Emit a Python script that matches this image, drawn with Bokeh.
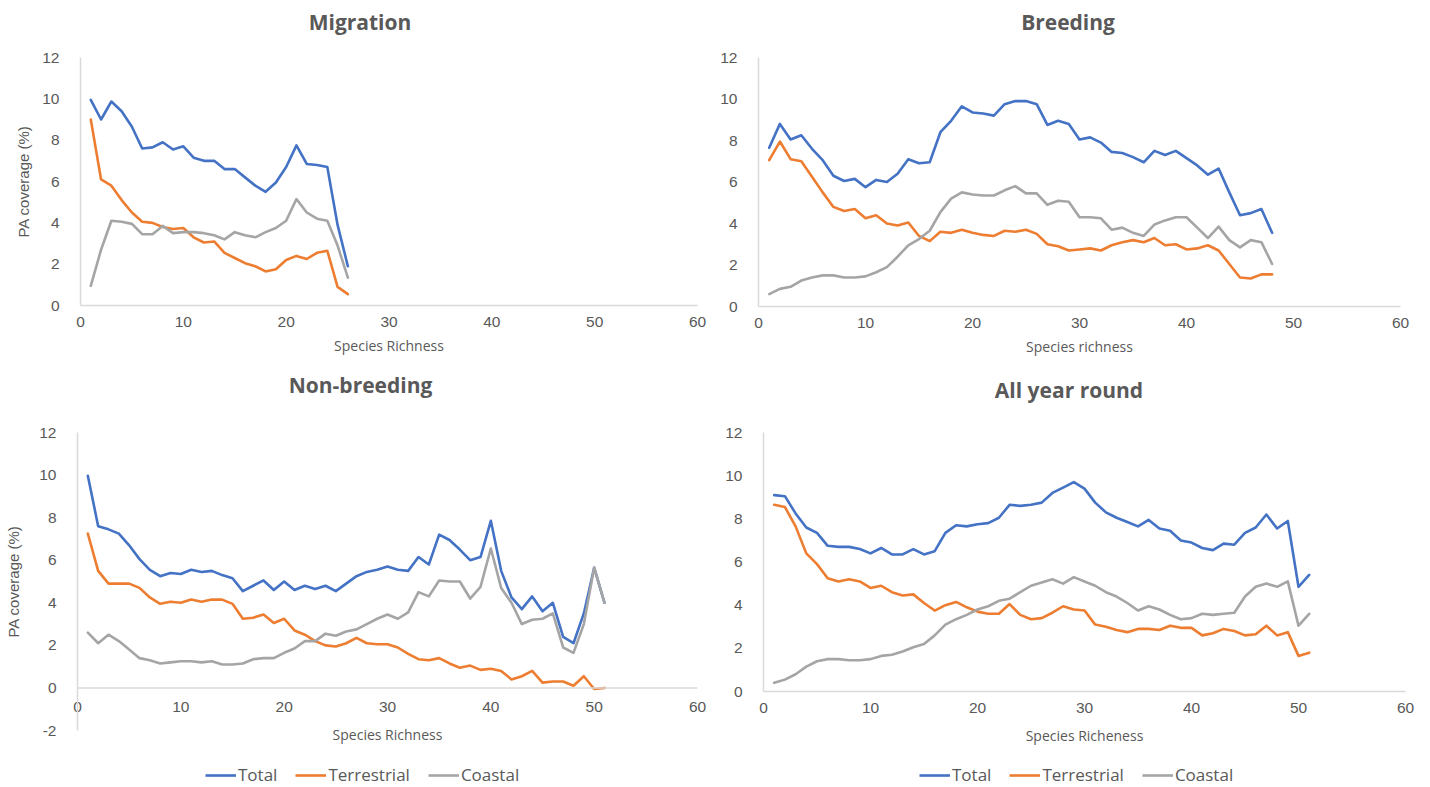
from bokeh.plotting import figure
from bokeh.models import (Range1d, FixedTicker, Legend, LegendItem, Span,
                          LinearAxis)
from bokeh.layouts import column, row
from bokeh.embed import file_html
from bokeh.resources import INLINE

# ---------------- data ----------------
x_ticks = [0, 10, 20, 30, 40, 50, 60]
y_ticks = [0, 2, 4, 6, 8, 10, 12]
y_ticks_nb = [-2, 0, 2, 4, 6, 8, 10, 12]
series_names = ["Total", "Terrestrial", "Coastal"]
titles = ["Migration", "Breeding", "Non-breeding", "All year round"]

mig_x = list(range(1, 27))
mig_total = [9.95, 9.0, 9.87, 9.4, 8.65, 7.6, 7.65, 7.9, 7.55, 7.7, 7.15, 7.0, 7.0,
             6.6, 6.6, 6.2, 5.8, 5.5, 5.95, 6.7, 7.75, 6.85, 6.8, 6.7, 3.9, 1.9]
mig_terr = [9.0, 6.1, 5.8, 5.1, 4.5, 4.05, 4.0, 3.8, 3.7, 3.75, 3.3, 3.05, 3.1,
            2.55, 2.3, 2.05, 1.9, 1.65, 1.75, 2.2, 2.4, 2.25, 2.55, 2.65, 0.9, 0.55]
mig_coast = [0.95, 2.7, 4.1, 4.05, 3.95, 3.45, 3.45, 3.85, 3.5, 3.55, 3.55, 3.5, 3.4,
             3.2, 3.55, 3.4, 3.3, 3.55, 3.75, 4.1, 5.15, 4.5, 4.2, 4.1, 2.9, 1.35]

bre_x = list(range(1, 49))
bre_total = [7.65, 8.8, 8.05, 8.25, 7.6, 7.05, 6.3, 6.05, 6.15, 5.75, 6.1, 6.0, 6.4, 7.1,
             6.9, 6.95, 8.4, 8.95, 9.65, 9.35, 9.3, 9.2, 9.75, 9.9, 9.9, 9.75, 8.75, 8.95,
             8.8, 8.05, 8.15, 7.9, 7.45, 7.4, 7.2, 6.95, 7.5, 7.3, 7.5, 7.15, 6.8, 6.35,
             6.65, 5.5, 4.4, 4.5, 4.7, 3.55]
bre_terr = [7.05, 7.95, 7.1, 7.0, 6.25, 5.5, 4.8, 4.6, 4.7, 4.25, 4.4, 4.0, 3.9, 4.05,
            3.4, 3.15, 3.6, 3.55, 3.7, 3.55, 3.45, 3.4, 3.65, 3.6, 3.7, 3.5, 3.0, 2.9,
            2.7, 2.75, 2.8, 2.7, 2.95, 3.1, 3.2, 3.1, 3.3, 2.95, 3.0, 2.75, 2.8, 2.95,
            2.7, 2.05, 1.4, 1.35, 1.55, 1.55]
bre_coast = [0.6, 0.85, 0.95, 1.25, 1.4, 1.5, 1.5, 1.4, 1.4, 1.45, 1.65, 1.9, 2.4, 2.95,
             3.25, 3.65, 4.55, 5.2, 5.5, 5.4, 5.35, 5.35, 5.6, 5.8, 5.45, 5.45, 4.9, 5.1,
             5.05, 4.3, 4.3, 4.25, 3.7, 3.8, 3.55, 3.4, 3.95, 4.15, 4.3, 4.3, 3.8, 3.3,
             3.85, 3.2, 2.85, 3.2, 3.1, 2.05]

nb_x = list(range(1, 52))
nb_total = [9.97, 7.6, 7.45, 7.25, 6.7, 6.05, 5.55, 5.25, 5.4, 5.35, 5.55, 5.45, 5.5,
            5.3, 5.15, 4.55, 4.8, 5.05, 4.6, 5.0, 4.6, 4.8, 4.65, 4.8, 4.55, 4.9, 5.25,
            5.45, 5.55, 5.7, 5.55, 5.5, 6.15, 5.8, 7.2, 6.95, 6.5, 6.0, 6.15, 7.85, 5.5,
            4.25, 3.7, 4.3, 3.6, 4.0, 2.4, 2.1, 3.5, 5.65, 4.0]
nb_terr = [7.25, 5.5, 4.9, 4.9, 4.9, 4.7, 4.25, 3.95, 4.05, 4.0, 4.15, 4.05, 4.15, 4.15,
           3.95, 3.25, 3.3, 3.45, 3.05, 3.25, 2.7, 2.5, 2.2, 2.0, 1.95, 2.1, 2.35, 2.1,
           2.05, 2.05, 1.9, 1.6, 1.35, 1.3, 1.4, 1.15, 0.95, 1.05, 0.85, 0.9, 0.8, 0.4,
           0.55, 0.8, 0.25, 0.3, 0.3, 0.1, 0.55, -0.05, 0.0]
nb_coast = [2.6, 2.1, 2.5, 2.2, 1.8, 1.4, 1.3, 1.15, 1.2, 1.25, 1.25, 1.2, 1.25, 1.1,
            1.1, 1.15, 1.35, 1.4, 1.4, 1.65, 1.85, 2.2, 2.2, 2.55, 2.45, 2.65, 2.75, 3.0,
            3.25, 3.45, 3.25, 3.55, 4.5, 4.3, 5.05, 5.0, 5.0, 4.2, 4.75, 6.55, 4.7, 4.0,
            3.0, 3.2, 3.25, 3.5, 1.9, 1.65, 3.0, 5.65, 4.0]

ay_x = list(range(1, 52))
ay_total = [9.1, 9.05, 8.25, 7.6, 7.35, 6.75, 6.7, 6.7, 6.6, 6.4, 6.65, 6.35, 6.35, 6.6,
            6.35, 6.5, 7.35, 7.7, 7.65, 7.75, 7.8, 8.05, 8.65, 8.6, 8.65, 8.75, 9.2, 9.45,
            9.7, 9.4, 8.75, 8.3, 8.05, 7.85, 7.65, 7.95, 7.55, 7.45, 7.0, 6.9, 6.65, 6.55,
            6.85, 6.8, 7.35, 7.6, 8.2, 7.55, 7.9, 4.85, 5.4]
ay_terr = [8.65, 8.55, 7.65, 6.4, 5.9, 5.25, 5.1, 5.2, 5.1, 4.8, 4.9, 4.6, 4.45, 4.5,
           4.1, 3.75, 4.0, 4.15, 3.9, 3.7, 3.6, 3.6, 4.05, 3.55, 3.35, 3.4, 3.65, 3.95,
           3.8, 3.75, 3.1, 3.0, 2.85, 2.75, 2.9, 2.9, 2.85, 3.05, 2.95, 2.95, 2.6, 2.7,
           2.9, 2.8, 2.6, 2.65, 3.05, 2.6, 2.75, 1.65, 1.8]
ay_coast = [0.4, 0.55, 0.8, 1.15, 1.4, 1.5, 1.5, 1.45, 1.45, 1.5, 1.65, 1.7, 1.85, 2.05,
            2.2, 2.6, 3.1, 3.35, 3.55, 3.8, 3.95, 4.2, 4.3, 4.6, 4.9, 5.05, 5.2, 5.0,
            5.3, 5.1, 4.9, 4.6, 4.4, 4.1, 3.75, 3.95, 3.8, 3.55, 3.35, 3.4, 3.6, 3.55,
            3.6, 3.65, 4.4, 4.85, 5.0, 4.85, 5.1, 3.05, 3.6]

# ---------------- style ----------------
COLORS = ["#4472C4", "#ED7D31", "#A5A5A5"]
TXT = "#595959"
AXIS = "#D9D9D9"
SANS = "Open Sans"
ARIAL = "Liberation Sans"
LW = 2.6


def strip_ticks(ax):
    ax.major_tick_line_color = None
    ax.minor_tick_line_color = None
    ax.major_tick_out = 0
    ax.major_tick_in = 0
    ax.minor_tick_out = 0
    ax.minor_tick_in = 0


def make_panel(title, xs, ys_list, fw, fh, left, right, top, bottom,
               y_start, yticks, xlabel, title_at, title_standoff,
               ylabel=None, ylabel_standoff=7, zero_axis=False,
               xlabel_standoff=6, xtick_standoff=11):
    p = figure(frame_width=fw, frame_height=fh, output_backend="svg",
               toolbar_location=None, tools="",
               x_range=Range1d(0, 60), y_range=Range1d(y_start, 12),
               min_border_left=left, min_border_right=right,
               min_border_top=top, min_border_bottom=bottom)
    p.outline_line_color = None
    p.grid.visible = False
    p.background_fill_color = "white"
    p.border_fill_color = "white"

    # chart title above the plot area, centred where the original puts it
    tax = LinearAxis(ticker=FixedTicker(ticks=[title_at]),
                     major_label_overrides={title_at: title})
    tax.axis_line_color = None
    strip_ticks(tax)
    tax.major_label_standoff = title_standoff
    tax.major_label_text_font = SANS
    tax.major_label_text_font_size = "21px"
    tax.major_label_text_font_style = "bold"
    tax.major_label_text_color = TXT
    p.add_layout(tax, "above")

    if zero_axis:
        p.add_layout(Span(location=0, dimension="width", line_color=AXIS,
                          line_width=1.5))

    for ys, c in zip(ys_list, COLORS):
        p.line(xs, ys, line_color=c, line_width=LW, line_join="round",
               line_cap="round")

    xa = [a for a in p.below if isinstance(a, LinearAxis)][0]
    ya = p.yaxis[0]
    xa.ticker = FixedTicker(ticks=x_ticks)
    ya.ticker = FixedTicker(ticks=yticks)
    for ax in (xa, ya):
        ax.axis_line_color = AXIS
        ax.axis_line_width = 1.5
        strip_ticks(ax)
        ax.major_label_text_font = ARIAL
        ax.major_label_text_font_size = "15.5px"
        ax.major_label_text_color = TXT
    ya.major_label_standoff = 21
    ya.major_label_overrides = {-2: "-2"}
    if zero_axis:
        xa.axis_line_color = None
    xa.major_label_standoff = xtick_standoff
    xa.axis_label = xlabel
    xa.axis_label_text_font = SANS
    xa.axis_label_text_font_size = "14px"
    xa.axis_label_text_font_style = "normal"
    xa.axis_label_text_color = TXT
    xa.axis_label_standoff = xlabel_standoff
    if ylabel:
        ya.axis_label = ylabel
        ya.axis_label_text_font = ARIAL
        ya.axis_label_text_font_size = "15px"
        ya.axis_label_text_font_style = "normal"
        ya.axis_label_text_color = TXT
        ya.axis_label_standoff = ylabel_standoff
    return p


def legend_strip(width, height, vx, vy, xs, ys_list):
    p = figure(width=width, height=height, output_backend="svg",
               toolbar_location=None, tools="",
               x_range=Range1d(0, 60), y_range=Range1d(0, 12),
               min_border_left=0, min_border_right=0,
               min_border_top=0, min_border_bottom=0)
    p.outline_line_color = None
    p.grid.visible = False
    p.axis.visible = False
    rs = [p.line(xs, ys, line_color=c, line_width=LW, visible=False)
          for ys, c in zip(ys_list, COLORS)]
    items = [LegendItem(label=n, renderers=[r]) for n, r in zip(series_names, rs)]
    lg = Legend(items=items, orientation="horizontal", location=(vx, vy))
    lg.border_line_color = None
    lg.background_fill_alpha = 0
    lg.label_text_font = SANS
    lg.label_text_font_size = "17px"
    lg.label_text_color = TXT
    lg.glyph_width = 31
    lg.glyph_height = 18
    lg.label_standoff = 2
    lg.spacing = 18
    lg.padding = 0
    lg.margin = 0
    p.add_layout(lg)
    return p


p1 = make_panel(titles[0], mig_x, [mig_total, mig_terr, mig_coast],
                617, 248, 80, 18, 57, 60, 0, y_ticks, "Species Richness",
                title_at=27.18, title_standoff=22,
                ylabel="PA coverage (%)", ylabel_standoff=7)
p2 = make_panel(titles[1], bre_x, [bre_total, bre_terr, bre_coast],
                642, 249, 43, 30, 57, 59, 0, y_ticks, "Species richness",
                title_at=28.93, title_standoff=22)
p3 = make_panel(titles[2], nb_x, [nb_total, nb_terr, nb_coast],
                620, 298, 77, 18, 67, 28, -2, y_ticks_nb, "Species Richness",
                title_at=27.39, title_standoff=34,
                ylabel="PA coverage (%)", ylabel_standoff=14, zero_axis=True,
                xlabel_standoff=10, xtick_standoff=-29)
p4 = make_panel(titles[3], ay_x, [ay_total, ay_terr, ay_coast],
                642, 259, 48, 25, 67, 72, 0, y_ticks, "Species Richeness",
                title_at=28.55, title_standoff=29, xlabel_standoff=10)

l3 = legend_strip(715, 23, 205, 0, nb_x, [nb_total, nb_terr, nb_coast])
l4 = legend_strip(715, 23, 204, 0, ay_x, [ay_total, ay_terr, ay_coast])

layout = column(row(p1, p2), row(p3, p4), row(l3, l4))
open("out.html", "w").write(file_html(layout, INLINE))
